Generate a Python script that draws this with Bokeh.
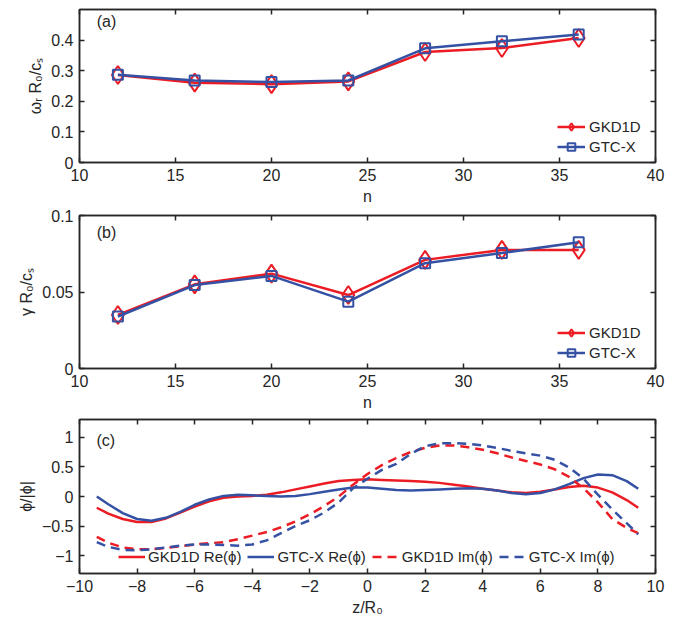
from bokeh.plotting import figure
from bokeh.layouts import column
from bokeh.models import Range1d, LinearAxis, FixedTicker, Legend, LegendItem, Label
from bokeh.embed import file_html
from bokeh.resources import INLINE

# ---- data -------------------------------------------------------------
n_modes = [12, 16, 20, 24, 28, 32, 36]

omega_gkd1d = [0.286, 0.261, 0.256, 0.265, 0.361, 0.374, 0.407]
omega_gtcx = [0.287, 0.268, 0.263, 0.268, 0.373, 0.396, 0.418]

gamma_gkd1d = [0.035, 0.055, 0.062, 0.048, 0.071, 0.0775, 0.0775]
gamma_gtcx = [0.034, 0.0545, 0.0605, 0.0437, 0.0688, 0.0755, 0.0825]

z_over_r0 = [-9.4, -9.0, -8.5, -8.0, -7.5, -7.0, -6.5, -6.0, -5.5, -5.0,
             -4.5, -4.0, -3.5, -3.0, -2.5, -2.0, -1.5, -1.0, -0.5, 0.0,
             0.5, 1.0, 1.5, 2.0, 2.5, 3.0, 3.5, 4.0, 4.5, 5.0,
             5.5, 6.0, 6.5, 7.0, 7.5, 8.0, 8.5, 9.0, 9.4]

re_gkd1d = [-0.19, -0.29, -0.38, -0.43, -0.43, -0.37, -0.27, -0.17, -0.08, -0.02,
            0.00, 0.01, 0.03, 0.07, 0.12, 0.17, 0.22, 0.26, 0.28, 0.29,
            0.28, 0.27, 0.26, 0.25, 0.23, 0.20, 0.17, 0.13, 0.10, 0.07,
            0.06, 0.08, 0.12, 0.16, 0.18, 0.15, 0.07, -0.06, -0.19]

re_gtcx = [0.00, -0.13, -0.28, -0.38, -0.41, -0.36, -0.26, -0.14, -0.05, 0.01,
           0.03, 0.02, 0.01, 0.00, 0.01, 0.04, 0.08, 0.12, 0.15, 0.15,
           0.13, 0.11, 0.10, 0.11, 0.12, 0.13, 0.14, 0.13, 0.10, 0.06,
           0.04, 0.06, 0.12, 0.21, 0.31, 0.37, 0.36, 0.26, 0.13]

im_gkd1d = [-0.68, -0.78, -0.86, -0.89, -0.89, -0.87, -0.84, -0.81, -0.79, -0.77,
            -0.72, -0.66, -0.60, -0.52, -0.42, -0.30, -0.16, 0.00, 0.20, 0.38,
            0.53, 0.65, 0.75, 0.82, 0.86, 0.86, 0.83, 0.79, 0.73, 0.66,
            0.60, 0.54, 0.46, 0.33, 0.14, -0.10, -0.38, -0.53, -0.62]

im_gtcx = [-0.77, -0.85, -0.90, -0.91, -0.89, -0.86, -0.83, -0.81, -0.81, -0.82,
           -0.83, -0.81, -0.74, -0.62, -0.50, -0.40, -0.27, -0.10, 0.14, 0.30,
           0.45, 0.55, 0.72, 0.85, 0.90, 0.90, 0.89, 0.86, 0.82, 0.77,
           0.73, 0.69, 0.62, 0.49, 0.30, 0.03, -0.22, -0.45, -0.64]

# ---- style ------------------------------------------------------------
RED = "#EC1C24"
BLUE = "#3551A4"
AX = "#262626"
FONT = "Liberation Sans"


def style_axis(ax, ticks, show_labels=True):
    ax.ticker = FixedTicker(ticks=ticks)
    ax.major_tick_in = 5
    ax.major_tick_out = 0
    ax.minor_tick_line_color = None
    ax.axis_line_color = AX
    ax.axis_line_width = 1.5
    ax.major_tick_line_color = AX
    ax.major_tick_line_width = 1.5
    ax.major_label_text_font = FONT
    ax.major_label_text_color = AX
    ax.axis_label_text_font = FONT
    ax.axis_label_text_color = AX
    ax.axis_label_text_font_style = "normal"
    ax.axis_label_text_font_size = "16px"
    if show_labels:
        ax.major_label_text_font_size = "16px"
        ax.major_label_standoff = 6
        ax.axis_label_standoff = 4
    else:
        ax.major_label_text_font_size = "0px"
        ax.major_label_standoff = 0


def panel(height, top, bottom, xr, yr, xticks, yticks, xlabel, ylabel):
    p = figure(width=674, height=height, output_backend="svg",
               toolbar_location=None, x_range=Range1d(*xr), y_range=Range1d(*yr),
               min_border_left=79, min_border_right=19,
               min_border_top=top, min_border_bottom=bottom)
    p.xgrid.visible = False
    p.ygrid.visible = False
    p.outline_line_color = AX
    p.outline_line_width = 1.5
    p.background_fill_color = "white"
    p.border_fill_color = "white"
    style_axis(p.xaxis[0], xticks)
    style_axis(p.yaxis[0], yticks)
    p.xaxis[0].axis_label = xlabel
    p.yaxis[0].axis_label = ylabel
    # mirrored tick marks on the top and right sides of the box
    top_ax = LinearAxis()
    style_axis(top_ax, xticks, show_labels=False)
    right_ax = LinearAxis()
    style_axis(right_ax, yticks, show_labels=False)
    p.add_layout(top_ax, "above")
    p.add_layout(right_ax, "right")
    return p


def add_tag(p, x, y, text):
    p.add_layout(Label(x=x, y=y, text=text, text_baseline="middle",
                       text_font=FONT, text_font_size="16px", text_color=AX))


def legend_box(items, location, orientation="vertical"):
    return Legend(items=items, location=location, orientation=orientation,
                  border_line_color=None, background_fill_alpha=0,
                  padding=0, margin=0, spacing=1,
                  glyph_width=28, glyph_height=19, label_height=19,
                  label_standoff=4, label_text_font=FONT,
                  label_text_font_size="15px", label_text_color=AX)


def scan_panel(p, y1, y2):
    l1 = p.line(n_modes, y1, line_color=RED, line_width=2.5)
    m1 = p.scatter(n_modes, y1, marker="diamond", size=18, fill_color=None,
                   line_color=RED, line_width=2)
    l2 = p.line(n_modes, y2, line_color=BLUE, line_width=2.5)
    m2 = p.scatter(n_modes, y2, marker="square", size=10, fill_color=None,
                   line_color=BLUE, line_width=2)
    p.add_layout(legend_box([LegendItem(label="GKD1D", renderers=[l1, m1]),
                             LegendItem(label="GTC-X", renderers=[l2, m2])],
                            (478, 6)))


# (a) real frequency
pa = panel(207, 9, 44, (10, 40), (0, 0.5), list(range(10, 41, 5)),
           [0, 0.1, 0.2, 0.3, 0.4], "n", "ωᵣ R₀/cₛ")
scan_panel(pa, omega_gkd1d, omega_gtcx)
add_tag(pa, 10.9, 0.462, "(a)")

# (b) growth rate
pb = panel(206, 8, 45, (10, 40), (0, 0.1), list(range(10, 41, 5)),
           [0, 0.05, 0.1], "n", "γ R₀/cₛ")
scan_panel(pb, gamma_gkd1d, gamma_gtcx)
add_tag(pb, 10.9, 0.0889, "(b)")

# (c) mode structure along the field line
pc = panel(212, 6, 52, (-10, 10), (-1.3, 1.3), list(range(-10, 11, 2)),
           [-1, -0.5, 0, 0.5, 1], "z/R₀", "ϕ/|ϕ|")
c1 = pc.line(z_over_r0, re_gkd1d, line_color=RED, line_width=2.5)
c2 = pc.line(z_over_r0, re_gtcx, line_color=BLUE, line_width=2.5)
c3 = pc.line(z_over_r0, im_gkd1d, line_color=RED, line_width=2.5, line_dash="9 6")
c4 = pc.line(z_over_r0, im_gtcx, line_color=BLUE, line_width=2.5, line_dash="9 6")
leg_c = legend_box([LegendItem(label="GKD1D Re(ϕ)", renderers=[c1]),
                    LegendItem(label="GTC-X Re(ϕ)", renderers=[c2]),
                    LegendItem(label="GKD1D Im(ϕ)", renderers=[c3]),
                    LegendItem(label="GTC-X Im(ϕ)", renderers=[c4])],
                   (39, 7), orientation="horizontal")
leg_c.spacing = 6
leg_c.glyph_width = 27
leg_c.label_standoff = 3
pc.add_layout(leg_c)
add_tag(pc, -9.41, 0.94, "(c)")

layout = column(pa, pb, pc, spacing=0)
open("out.html", "w").write(file_html(layout, INLINE))
